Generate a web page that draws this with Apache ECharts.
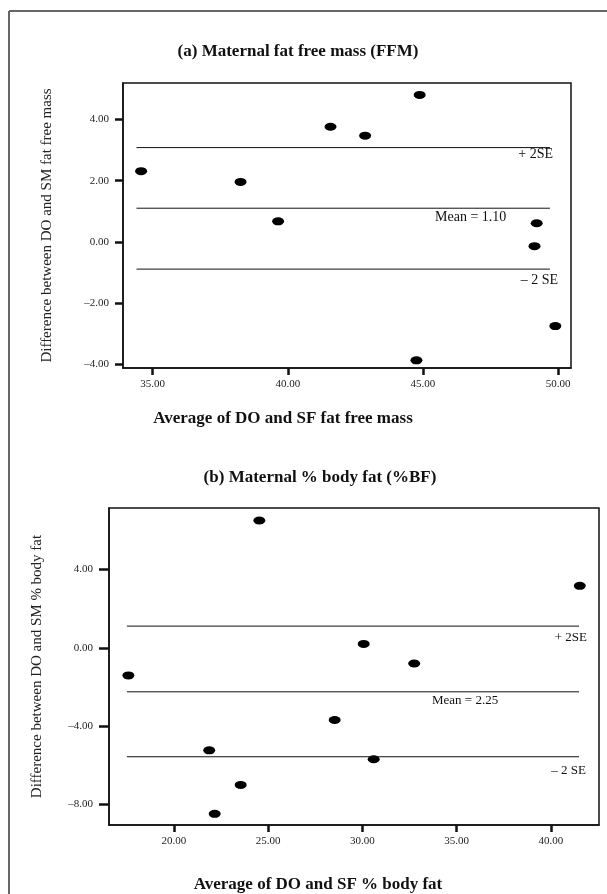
<!DOCTYPE html>
<html>
<head>
<meta charset="utf-8">
<script src="https://cdn.jsdelivr.net/npm/echarts@6/dist/echarts.min.js"></script>
<style>
  html, body { margin: 0; padding: 0; background: #fff; }
  #chart { width: 607px; height: 894px; }
</style>
</head>
<body>
<div id="chart"></div>
<script>
// (a) fat free mass
var ffmAvg  = [34.57, 38.25, 39.64, 41.58, 42.86, 44.88, 44.76, 49.21, 49.13, 49.90];
var ffmDiff = [2.31, 1.96, 0.67, 3.76, 3.47, 4.80, -3.87, 0.61, -0.14, -2.75];
var ffmLevels = [3.08, 1.10, -0.89];   // +2SE, mean, -2SE
var ffmSpan = [34.4, 49.7];
var ffmXTicks = [35, 40, 45, 50];
var ffmYTicks = [-4, -2, 0, 2, 4];

// (b) % body fat
var bfAvg  = [17.58, 24.53, 21.87, 22.16, 23.54, 28.53, 30.07, 30.60, 32.75, 41.54];
var bfDiff = [-1.41, 6.51, -5.24, -8.49, -7.01, -3.69, 0.20, -5.70, -0.80, 3.17];
var bfLevels = [1.11, -2.25, -5.57];
var bfSpan = [17.5, 41.5];
var bfXTicks = [20, 25, 30, 35, 40];
var bfYTicks = [-8, -4, 0, 4];

var serif = '"Liberation Serif", "DejaVu Serif", serif';

function fmt(v) {
  return v < 0 ? '\u2013' + Math.abs(v).toFixed(2) : v.toFixed(2);
}

function pairs(xs, ys) {
  return xs.map(function(x, i) { return [x, ys[i]]; });
}

function levelSeries(levels, span, idx) {
  return levels.map(function(lv) {
    return {
      type: 'line',
      xAxisIndex: idx,
      yAxisIndex: idx,
      data: [[span[0], lv], [span[1], lv]],
      symbol: 'none',
      silent: true,
      lineStyle: { color: '#111', width: 1 }
    };
  });
}

function xAxis(idx, min, max, ticks) {
  return {
    type: 'value', gridIndex: idx, min: min, max: max,
    splitLine: { show: false },
    axisLine: { onZero: false, lineStyle: { color: '#111', width: 1.5 } },
    axisTick: { customValues: ticks, length: 7, lineStyle: { color: '#111', width: 2.5 } },
    axisLabel: { customValues: ticks, formatter: fmt, margin: 11, color: '#222',
      fontFamily: serif, fontSize: 11 }
  };
}

function yAxis(idx, min, max, ticks, name, gap, tickLen, margin) {
  return {
    type: 'value', gridIndex: idx, min: min, max: max,
    name: name, nameLocation: 'middle', nameRotate: 90, nameGap: gap,
    nameTextStyle: { fontFamily: serif, fontSize: 15, color: '#222' },
    splitLine: { show: false },
    axisLine: { onZero: false, lineStyle: { color: '#111', width: 1.5 } },
    axisTick: { customValues: ticks, length: tickLen, lineStyle: { color: '#111', width: 2.5 } },
    axisLabel: { customValues: ticks, formatter: fmt, margin: margin, color: '#222',
      fontFamily: serif, fontSize: 11 }
  };
}

function txt(s, x, y, size, bold, align) {
  return {
    type: 'text', x: x, y: y, silent: true,
    style: {
      text: s, fill: '#111', align: align || 'center', verticalAlign: 'middle',
      textAlign: align || 'center', textVerticalAlign: 'middle',
      font: (bold ? 'bold ' : '') + size + 'px ' + serif
    }
  };
}

var chart = echarts.init(document.getElementById('chart'), null, { renderer: 'canvas' });
chart.setOption({
  animation: false,
  backgroundColor: '#fff',
  grid: [
    { left: 123, top: 83, width: 448, height: 285, show: true, borderColor: '#111', borderWidth: 1.5 },
    { left: 109, top: 508, width: 490, height: 317, show: true, borderColor: '#111', borderWidth: 1.5 }
  ],
  xAxis: [
    xAxis(0, 33.9, 50.48, ffmXTicks),
    xAxis(1, 16.55, 42.56, bfXTicks)
  ],
  yAxis: [
    yAxis(0, -4.12, 5.19, ffmYTicks, 'Difference between DO and SM fat free mass', 68, 8, 14),
    yAxis(1, -9.06, 7.15, bfYTicks, 'Difference between DO and SM % body fat', 64, 10, 16)
  ],
  series: [
    {
      type: 'scatter', xAxisIndex: 0, yAxisIndex: 0,
      data: pairs(ffmAvg, ffmDiff),
      symbol: 'circle', symbolSize: [12, 8],
      itemStyle: { color: '#000', opacity: 1 }
    },
    {
      type: 'scatter', xAxisIndex: 1, yAxisIndex: 1,
      data: pairs(bfAvg, bfDiff),
      symbol: 'circle', symbolSize: [12, 8],
      itemStyle: { color: '#000', opacity: 1 }
    }
  ].concat(levelSeries(ffmLevels, ffmSpan, 0), levelSeries(bfLevels, bfSpan, 1)),
  graphic: [
    { type: 'line', silent: true, shape: { x1: 9, y1: 11, x2: 607, y2: 11 }, style: { stroke: '#666', lineWidth: 2 } },
    { type: 'line', silent: true, shape: { x1: 9, y1: 11, x2: 9, y2: 894 }, style: { stroke: '#666', lineWidth: 2 } },
    txt('(a) Maternal fat free mass (FFM)', 298, 52, 17, true),
    txt('Average of DO and SF fat free mass', 283, 419, 17, true),
    txt('(b) Maternal % body fat (%BF)', 320, 478, 17, true),
    txt('Average of DO and SF % body fat', 318, 885, 17, true),
    txt('+ 2SE', 553, 154, 14, false, 'right'),
    txt('Mean = 1.10', 435, 217, 14, false, 'left'),
    txt('\u2013 2 SE', 558, 280, 14, false, 'right'),
    txt('+ 2SE', 587, 638, 13, false, 'right'),
    txt('Mean = 2.25', 432, 701, 13, false, 'left'),
    txt('\u2013 2 SE', 586, 771, 13, false, 'right')
  ]
});
window.addEventListener('resize', function() { chart.resize(); });
</script>
</body>
</html>
